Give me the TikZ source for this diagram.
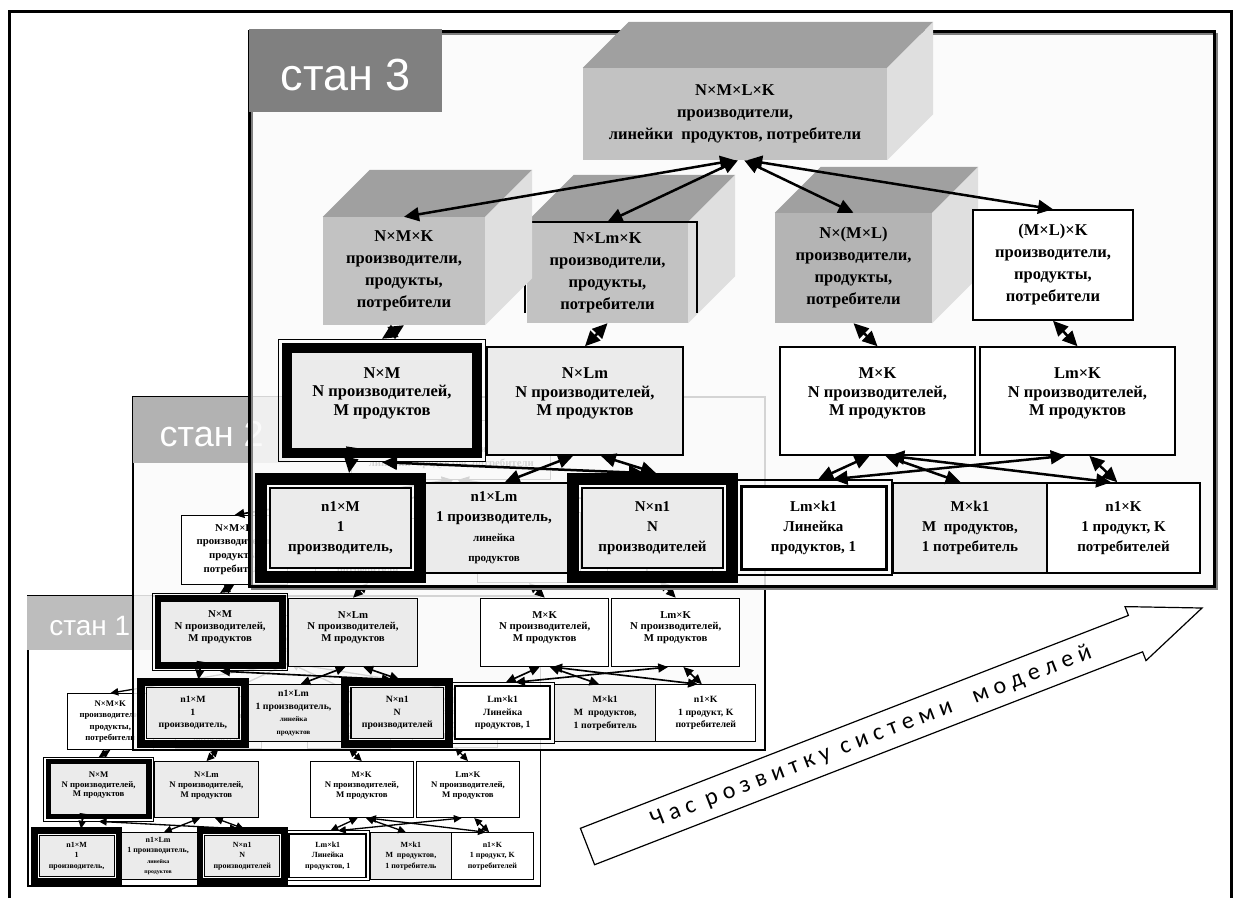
\documentclass[tikz,border=0pt]{standalone}
\usepackage{fontspec}
\setmainfont{Liberation Serif}
\newfontfamily\labelfont{Liberation Sans}
\newfontfamily\arrowfont[LetterSpace=25]{Carlito}
\usetikzlibrary{arrows.meta,calc}

\definecolor{panelbg}{HTML}{FAFAFA}
\definecolor{lightfill}{HTML}{EBEBEB}
\definecolor{frontgray}{HTML}{C2C2C2}
\definecolor{frontdark}{HTML}{B4B4B4}
\definecolor{topgray}{HTML}{A0A0A0}
\definecolor{sidegray}{HTML}{DFDFDF}
\definecolor{lab3}{HTML}{808080}
\definecolor{lab2}{HTML}{B2B2B2}
\definecolor{lab1}{HTML}{BDBDBD}

\newif\ifcubes
\newcommand{\lwf}{1}
\newcommand{\cubefont}{\bfseries\fontsize{16.5}{22}\selectfont}
\newcommand{\rowfont}{\bfseries\fontsize{16.5}{18.5}\selectfont}
\newcommand{\lowfont}{\bfseries\fontsize{15}{20}\selectfont}
\newcommand{\minifont}{\bfseries\fontsize{11}{13}\selectfont}

\tikzset{
  box/.style={draw, line width=\lwf*1.5pt, align=center, inner sep=1pt, font=\rowfont},
  plain/.style={box, fill=white},
  shaded/.style={box, fill=lightfill},
  heavy/.style={draw, line width=\lwf*12pt},
  thinframe/.style={draw, line width=\lwf*1.5pt},
  link/.style={arrows={Triangle[length=0pt 6,width=0pt 5.5]-Triangle[length=0pt 6,width=0pt 5.5]}, line width=\lwf*2.5pt},
  cubetop/.style={fill=topgray},
  cubeside/.style={fill=sidegray},
  stanlabel/.style={fill=#1, text=white, anchor=north west, inner sep=0pt, text depth=0pt},
}

% top and right faces of a cube
\newcommand{\cubefaces}[2]{%
  \fill[cubetop] (#1.north west) -- ([shift={(#2,-#2)}]#1.north west) -- ([shift={(#2,-#2)}]#1.north east) -- (#1.north east) -- cycle;
  \fill[cubeside] (#1.north east) -- ([shift={(#2,-#2)}]#1.north east) -- ([shift={(#2,-#2)}]#1.south east) -- (#1.south east) -- cycle;
}

% one stage of the model system
\newcommand{\modelset}{%
  % top level:
  \node[front=frontgray, minimum width=304, minimum height=92] (top) at (735,114)
    {N×M×L×K\\производители,\\линейки\ \ продуктов, потребители};
  \ifcubes\cubefaces{top}{46}\fi

  % second level:
  \node[front=frontdark, minimum width=157, minimum height=110] (nml) at (853.5,268)
    {N×(M×L)\\производители,\\продукты,\\потребители};
  \ifcubes\cubefaces{nml}{46}\fi
  \node[front=frontgray, minimum width=161, minimum height=101] (nlk) at (607.5,272.5)
    {N×Lm×K\\производители,\\продукты,\\потребители};
  \ifcubes
    \cubefaces{nlk}{47}
    \draw[line width=2] (525,313) -- (525,222) -- (697,222) -- (697,313);
  \fi
  \node[front=frontgray, minimum width=162, minimum height=108] (nmk) at (404,271)
    {N×M×K\\производители,\\продукты,\\потребители};
  \ifcubes\cubefaces{nmk}{47}\fi
  \node[plain, font=\cubefont, minimum width=160, minimum height=110] (mlk) at (1053,265)
    {(M×L)×K\\производители,\\продукты,\\потребители};

  % third level:
  \node[thinframe, minimum width=207, minimum height=122] (nmf) at (382,400.5) {};
  \node[shaded, line width=\lwf*10pt, minimum width=190, minimum height=105] (nm) at (382,400.5)
    {N×M\\N производителей,\\M продуктов\\ \mbox{}};
  \node[shaded, minimum width=196, minimum height=108] (nlm) at (585,401)
    {N×Lm\\N производителей,\\M продуктов\\ \mbox{}};
  \node[plain, minimum width=195, minimum height=108] (mk) at (877.5,401)
    {M×K\\N производителей,\\M продуктов\\ \mbox{}};
  \node[plain, minimum width=195, minimum height=108] (lmk) at (1077.5,401)
    {Lm×K\\N производителей,\\M продуктов\\ \mbox{}};

  % fourth level:
  \node[shaded, font=\lowfont, minimum width=152, minimum height=90] (n1lm) at (494,528)
    {n1×Lm\\1 производитель,\\{\minifont линейка}\\{\minifont продуктов}};
  \node[shaded, font=\lowfont, minimum width=154, minimum height=90] (mk1) at (970,528)
    {M×k1\\M\ \ продуктов,\\1 потребитель};
  \node[plain, font=\lowfont, minimum width=153, minimum height=90] (n1k) at (1123.5,528)
    {n1×K\\1 продукт, K\\потребителей};
  \node[heavy, minimum width=159, minimum height=98] (n1mf) at (340.5,528) {};
  \node[shaded, font=\lowfont, line width=\lwf*2pt, minimum width=141, minimum height=80] (n1m) at (340.5,528)
    {n1×M\\1\\производитель,};
  \node[heavy, minimum width=159, minimum height=98] (nn1f) at (652.5,528) {};
  \node[shaded, font=\lowfont, line width=\lwf*2pt, minimum width=141, minimum height=80] (nn1) at (652.5,528)
    {N×n1\\N\\производителей};
  \node[thinframe, minimum width=157, minimum height=95] (lmk1f) at (813.5,527.5) {};
  \node[plain, font=\lowfont, line width=\lwf*3pt, minimum width=145, minimum height=83] (lmk1) at (813.5,527.5)
    {Lm×k1\\Линейка\\продуктов, 1};

  % links:
  \draw[link] ($(top.south west)!.50!(top.south east)$) -- (nmk.north);
  \draw[link] ($(top.south west)!.51!(top.south east)$) -- (nlk.north);
  \draw[link] ($(top.south west)!.53!(top.south east)$) -- (nml.north);
  \draw[link] ($(top.south west)!.54!(top.south east)$) -- (mlk.north);
  \draw[link] (nmk.south) -- (nmf.north);
  \draw[link] (nlk.south) -- (nlm.north);
  \draw[link] (nml.south) -- (mk.north);
  \draw[link] (mlk.south) -- (lmk.north);
  \draw[link] ($(nmf.south west)!.35!(nmf.south east)$) -- ($(n1mf.north west)!.55!(n1mf.north east)$);
  \draw[link] ($(nmf.south west)!.50!(nmf.south east)$) -- ($(nn1f.north west)!.45!(nn1f.north east)$);
  \draw[link] ($(nlm.south west)!.44!(nlm.south east)$) -- ($(n1lm.north west)!.57!(n1lm.north east)$);
  \draw[link] ($(nlm.south west)!.58!(nlm.south east)$) -- ($(nn1f.north west)!.52!(nn1f.north east)$);
  \draw[link] ($(mk.south west)!.46!(mk.south east)$) -- ($(lmk1f.north west)!.53!(lmk1f.north east)$);
  \draw[link] ($(mk.south west)!.54!(mk.south east)$) -- ($(mk1.north west)!.44!(mk1.north east)$);
  \draw[link] ($(mk.south west)!.56!(mk.south east)$) -- ($(n1k.north west)!.42!(n1k.north east)$);
  \draw[link] ($(lmk.south west)!.44!(lmk.south east)$) -- ($(lmk1f.north west)!.62!(lmk1f.north east)$);
  \draw[link] ($(lmk.south west)!.56!(lmk.south east)$) -- ($(n1k.north west)!.46!(n1k.north east)$);
}

\begin{document}
\begin{tikzpicture}[x=1pt, y=-1pt]
  \useasboundingbox (0,0) rectangle (1233,898);

  % outer frame:
  \draw[line width=3] (9,898) -- (9,11) -- (1231,11) -- (1231,898);

  % stan 1:
  \begin{scope}[shift={(-104.2,579.8)}, xscale=0.531, yscale=0.523, transform shape,
      front/.style={plain, font=\cubefont}]
    \renewcommand{\lwf}{0.53}
    \cubesfalse
    \fill[white] (249,31) rectangle (1214,586);
    \draw[line width=\lwf*3pt] (249,31) rectangle (1214,586);
    \modelset
  \end{scope}
  \node[stanlabel=lab1, minimum width=125, minimum height=54, text height=25pt,
    font=\labelfont\fontsize{28}{28}\selectfont] (stan1) at (27,596) {стан 1};

  % stan 2:
  \begin{scope}[shift={(-30.1,377.3)}, xscale=0.655, yscale=0.636, transform shape,
      front/.style={plain, font=\cubefont}]
    \renewcommand{\lwf}{0.65}
    \cubesfalse
    \fill[panelbg, fill opacity=0.85] (249,31) rectangle (1214,586);
    \draw[line width=\lwf*3pt] (249,31) rectangle (1214,586);
    \modelset
  \end{scope}
  \node[stanlabel=lab2, minimum width=157, minimum height=66, text height=32pt,
    font=\labelfont\fontsize{36}{36}\selectfont] (stan2) at (133,397) {стан 2};

  % stan 3:
  \begin{scope}[front/.style={fill=#1, align=center, inner sep=1pt, font=\cubefont}]
    \cubestrue
    \fill[panelbg, fill opacity=0.85] (249,31) rectangle (1214,586);
    \draw[gray, line width=2] (252,34) rectangle (1217,589);
    \draw[line width=3] (249,31) rectangle (1214,586);
    \modelset
  \end{scope}
  \node[stanlabel=lab3, minimum width=193, minimum height=83, text height=40pt,
    font=\labelfont\fontsize{45}{45}\selectfont] (stan3) at (249,29) {стан 3};

  % time arrow:
  \draw[line width=1.2, fill=white] (580.4,828.3) -- (1128.4,615.4) -- (1125,606.6) -- (1202,608)
    -- (1146,660.6) -- (1142.6,651.8) -- (594.6,864.7) -- cycle;
  \node[rotate=21.2, font=\arrowfont\fontsize{24}{24}\selectfont] (timetext) at (871,737)
    {Час розвитку системи\ \ моделей};
\end{tikzpicture}
\end{document}
